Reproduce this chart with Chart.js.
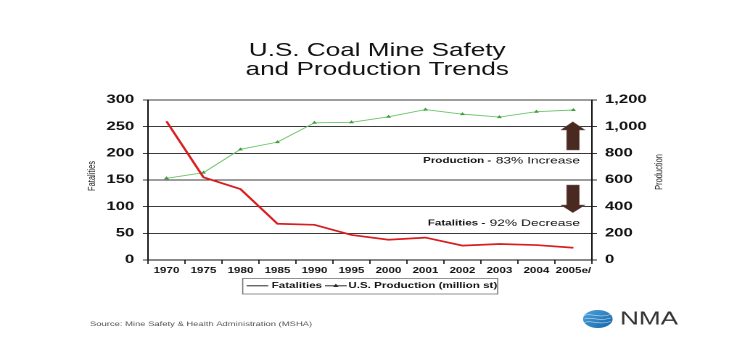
<!DOCTYPE html>
<html>
<head>
<meta charset="utf-8">
<script src="https://cdn.jsdelivr.net/npm/chart.js@4.4.1/dist/chart.umd.min.js"></script>
<style>
  html, body { margin: 0; padding: 0; background: #fff; overflow: hidden; }
  #wrap { width: 517px; height: 357px; transform: scaleX(1.4507); transform-origin: 0 0; }
</style>
</head>
<body>
<div id="wrap"><canvas id="c" width="517" height="357"></canvas></div>
<script>
const years = ['1970','1975','1980','1985','1990','1995','2000','2001','2002','2003','2004','2005e/'];
const fatalities = [260, 155, 133, 68, 66, 47, 38, 42, 27, 30, 28, 23];
const production = [613, 655, 830, 884, 1029, 1033, 1074, 1128, 1094, 1072, 1112, 1125];
const titleLines = ['U.S. Coal Mine Safety', 'and Production Trends'];
const seriesNames = ['Fatalities', 'U.S. Production (million st)'];
const leftTicks = { min: 0, max: 300, step: 50 };
const rightTicks = { min: 0, max: 1200, step: 200 };

const F = '"Liberation Sans", Arial, sans-serif';

const deco = {
  id: 'deco',
  afterDraw(chart) {
    const ctx = chart.ctx;
    ctx.save();
    // Title
    ctx.fillStyle = '#111';
    ctx.font = '18px ' + F;
    ctx.textAlign = 'center';
    ctx.textBaseline = 'alphabetic';
    ctx.fillText(titleLines[0], 260, 56);
    ctx.fillText(titleLines[1], 260, 75);

    // Axis titles (both read bottom-to-top)
    ctx.font = '7.5px ' + F;
    ctx.fillStyle = '#222';
    ctx.textBaseline = 'middle';
    ctx.save(); ctx.translate(63.4, 176); ctx.rotate(-Math.PI / 2); ctx.fillText('Fatalities', 0, 0); ctx.restore();
    ctx.save(); ctx.translate(454.3, 172); ctx.rotate(-Math.PI / 2); ctx.fillText('Production', 0, 0); ctx.restore();

    // Annotations
    function annot(boldTxt, regTxt, y) {
      const right = 399.8;
      ctx.textAlign = 'right';
      ctx.textBaseline = 'middle';
      ctx.fillStyle = '#111';
      ctx.font = '9.5px ' + F;
      ctx.fillText(regTxt, right, y);
      const w = ctx.measureText(regTxt).width;
      ctx.font = 'bold 8px ' + F;
      ctx.fillText(boldTxt, right - w - 3, y);
    }
    annot('Production -', '83% Increase', 160.7);
    annot('Fatalities -', '92% Decrease', 223.3);

    // Arrows
    ctx.fillStyle = '#4a2a20';
    ctx.strokeStyle = '#7a6a64';
    ctx.lineWidth = 0.5;
    // up arrow
    ctx.beginPath();
    ctx.moveTo(394.9, 121.7);
    ctx.lineTo(403.3, 130);
    ctx.lineTo(399.3, 130);
    ctx.lineTo(399.3, 150);
    ctx.lineTo(390.6, 150);
    ctx.lineTo(390.6, 130);
    ctx.lineTo(386.5, 130);
    ctx.closePath();
    ctx.fill(); ctx.stroke();
    // down arrow
    ctx.beginPath();
    ctx.moveTo(390.6, 185);
    ctx.lineTo(399.3, 185);
    ctx.lineTo(399.3, 205);
    ctx.lineTo(403.3, 205);
    ctx.lineTo(394.9, 212.7);
    ctx.lineTo(386.5, 205);
    ctx.lineTo(390.6, 205);
    ctx.closePath();
    ctx.fill(); ctx.stroke();

    // Legend
    ctx.strokeStyle = '#777';
    ctx.lineWidth = 0.8;
    ctx.strokeRect(167.3, 278.5, 175.8, 15.5);
    ctx.strokeStyle = '#2a2a2a';
    ctx.lineWidth = 1;
    ctx.beginPath(); ctx.moveTo(170.0, 285.8); ctx.lineTo(184.9, 285.8); ctx.stroke();
    ctx.beginPath(); ctx.moveTo(224.0, 285.8); ctx.lineTo(239.0, 285.8); ctx.stroke();
    ctx.fillStyle = '#2a2a2a';
    ctx.beginPath(); ctx.moveTo(231.5, 283.6); ctx.lineTo(233.3, 287); ctx.lineTo(229.7, 287); ctx.closePath(); ctx.fill();
    ctx.font = 'bold 8px ' + F;
    ctx.textAlign = 'left';
    ctx.textBaseline = 'middle';
    ctx.fillStyle = '#111';
    ctx.fillText(seriesNames[0], 187.3, 286);
    ctx.fillText(seriesNames[1], 240.1, 286);

    // Source
    ctx.font = '6.5px ' + F;
    ctx.fillStyle = '#555';
    ctx.fillText('Source: Mine Safety & Health Administration (MSHA)', 62, 324);

    // NMA logo
    const g = ctx.createLinearGradient(402, 310, 422, 328);
    g.addColorStop(0, '#4fa3dc');
    g.addColorStop(1, '#1565a8');
    ctx.fillStyle = g;
    ctx.beginPath();
    ctx.ellipse(412.1, 319, 10.2, 9, 0, 0, Math.PI * 2);
    ctx.fill();
    ctx.strokeStyle = 'rgba(255,255,255,0.7)';
    ctx.lineWidth = 0.6;
    for (let i = -1; i <= 1; i++) {
      ctx.beginPath();
      ctx.moveTo(403, 319 + i * 3.5);
      ctx.bezierCurveTo(407, 316 + i * 3.5, 412, 322 + i * 3.5, 421, 318 + i * 3.5);
      ctx.stroke();
    }
    ctx.fillStyle = '#333';
    ctx.font = '18px ' + F;
    ctx.textBaseline = 'alphabetic';
    ctx.fillText('NMA', 427.4, 324.5);
    ctx.restore();
  }
};

new Chart(document.getElementById('c'), {
  type: 'line',
  data: {
    labels: years,
    datasets: [
      {
        label: seriesNames[0],
        data: fatalities,
        yAxisID: 'y',
        borderColor: '#d81e1e',
        backgroundColor: '#d81e1e',
        borderWidth: 1.7,
        pointRadius: 0,
        tension: 0
      },
      {
        label: seriesNames[1],
        data: production,
        yAxisID: 'y1',
        borderColor: '#6cc46c',
        backgroundColor: '#3a9e3a',
        borderWidth: 0.9,
        pointStyle: 'triangle',
        pointRadius: 2,
        pointBorderWidth: 0,
        pointBackgroundColor: '#3a9e3a',
        tension: 0
      }
    ]
  },
  options: {
    responsive: false,
    devicePixelRatio: 2,
    animation: false,
    layout: { padding: { top: 100, left: 0, right: 0, bottom: 0 } },
    plugins: { legend: { display: false }, title: { display: false }, tooltip: { enabled: false } },
    scales: {
      x: {
        type: 'category',
        offset: true,
        grid: { drawOnChartArea: false, drawTicks: true, tickLength: 4, offset: true, color: '#333' },
        border: { display: true, color: '#111', width: 1 },
        ticks: { font: { family: F, size: 8, weight: 'bold' }, color: '#111', padding: 2, maxRotation: 0, autoSkip: false },
        afterFit: s => { s.height = 97; }
      },
      y: {
        position: 'left',
        min: leftTicks.min, max: leftTicks.max,
        grid: { color: '#3a3a3a', lineWidth: 1, tickLength: 3.5 },
        border: { display: true, color: '#111', width: 1 },
        ticks: { stepSize: leftTicks.step, font: { family: F, size: 11.5, weight: 'bold' }, color: '#111', padding: 6 },
        afterFit: s => { s.width = 102; }
      },
      y1: {
        position: 'right',
        min: rightTicks.min, max: rightTicks.max,
        grid: { drawOnChartArea: false, tickLength: 3.5, color: '#333' },
        border: { display: true, color: '#111', width: 1 },
        ticks: {
          stepSize: rightTicks.step,
          font: { family: F, size: 11.5, weight: 'bold' },
          color: '#111', padding: 5.5,
          callback: v => v.toLocaleString('en-US')
        },
        afterFit: s => { s.width = 109; }
      }
    }
  },
  plugins: [deco]
});
</script>
</body>
</html>
